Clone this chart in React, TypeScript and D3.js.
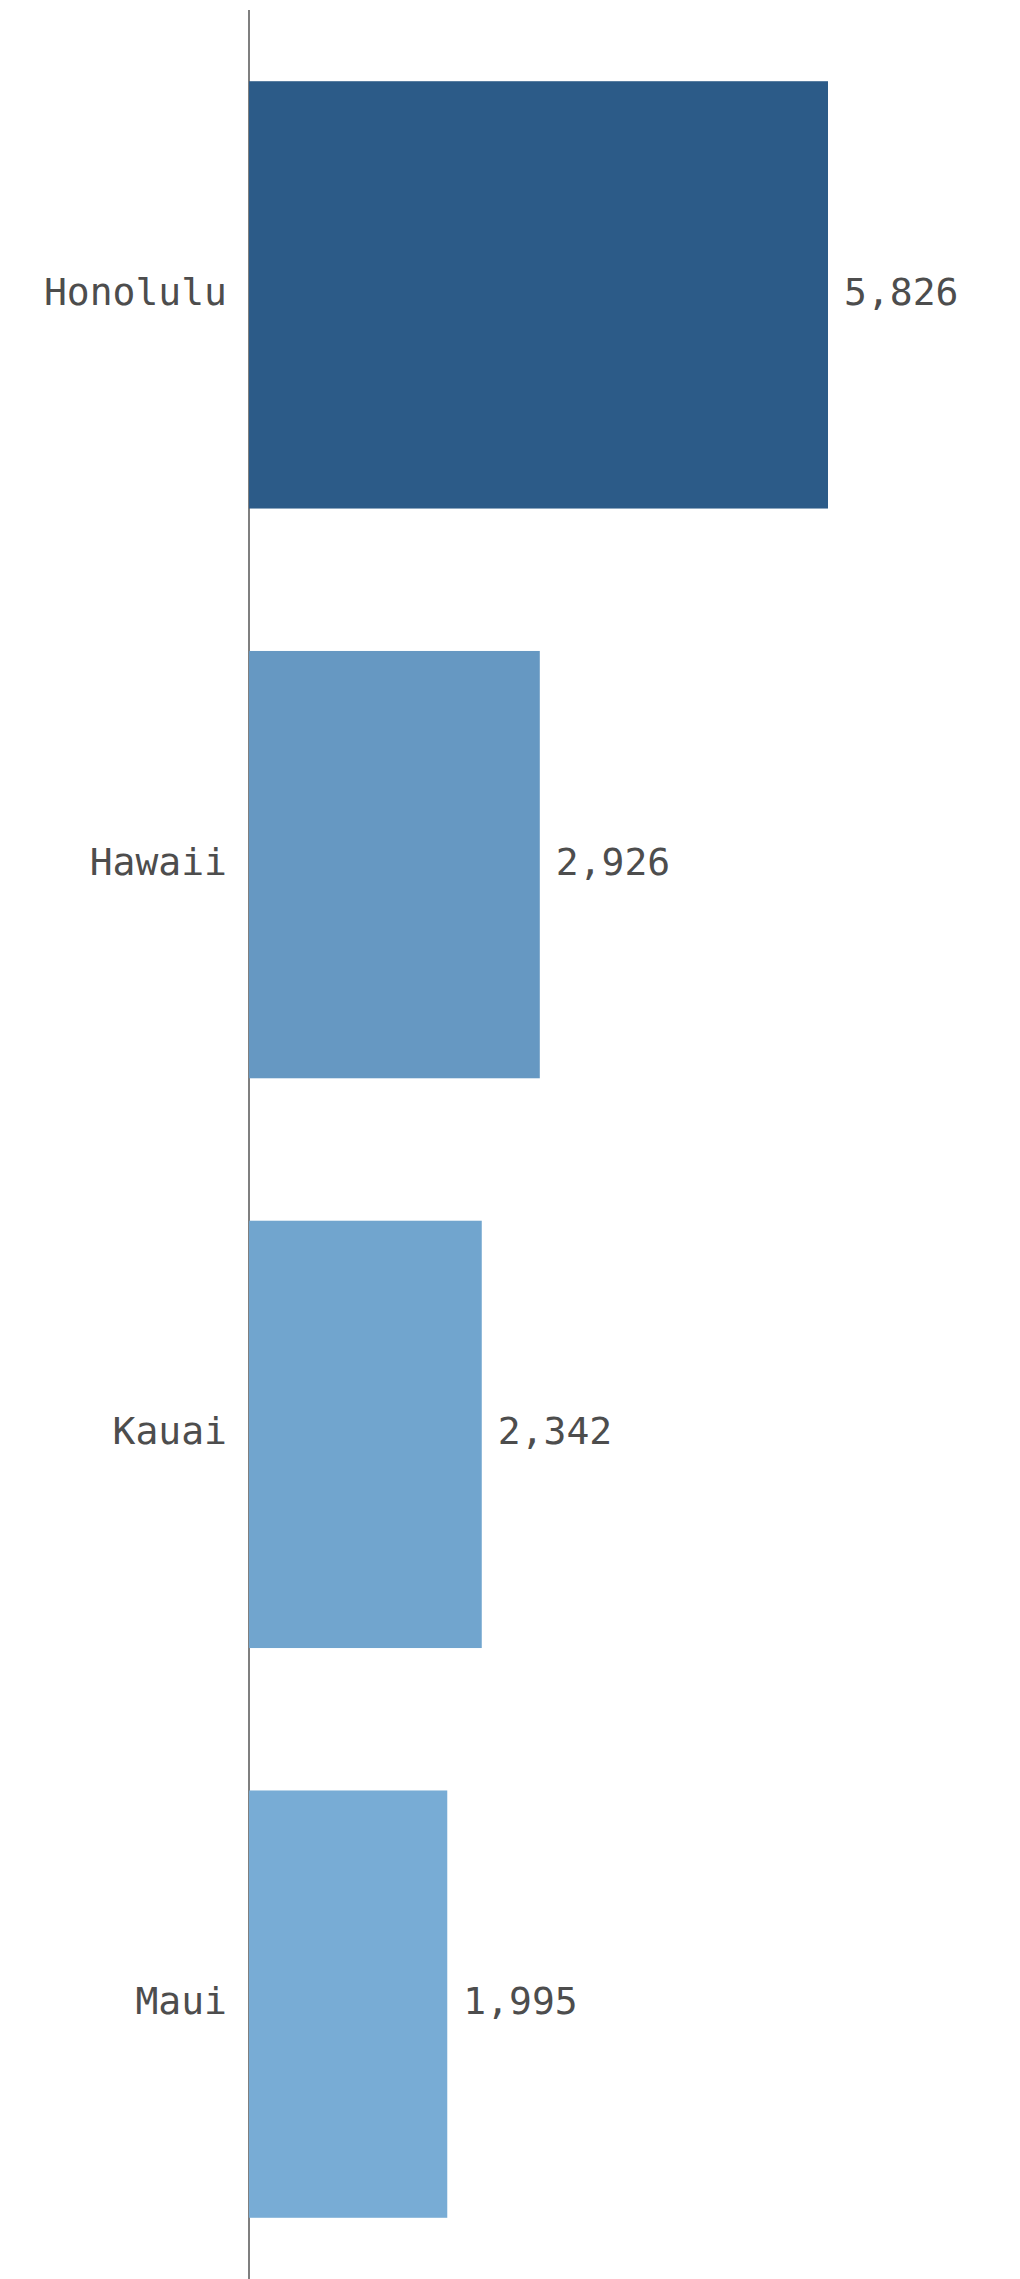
import React from "react";
import * as d3 from "d3";

const categories = ["Honolulu", "Hawaii", "Kauai", "Maui"];
const values = [5826, 2926, 2342, 1995];

const WIDTH = 1020;
const HEIGHT = 2279;
const AXIS_X = 249;

export default function App() {
  const maxV = d3.max(values) as number;
  const minV = d3.min(values) as number;
  const x = d3.scaleLinear().domain([0, maxV]).range([AXIS_X, 828]);
  const y = d3
    .scaleBand<string>()
    .domain(categories)
    .range([10, 2289])
    .paddingInner(0.25)
    .paddingOuter(0.125);
  const color = d3
    .scaleLinear<string>()
    .domain([minV, maxV])
    .range(["#78acd5", "#2c5b88"]);
  const fmt = d3.format(",");
  const font = "'DejaVu Sans Mono', monospace";

  return (
    <svg
      width={WIDTH}
      height={HEIGHT}
      style={{ position: "absolute", left: 0, top: 0, background: "#fff" }}
    >
      <line
        x1={AXIS_X}
        x2={AXIS_X}
        y1={10}
        y2={HEIGHT}
        stroke="#555"
        strokeWidth={1.5}
      />
      {categories.map((c, i) => {
        const y0 = y(c) as number;
        const bw = y.bandwidth();
        const cy = y0 + bw / 2;
        return (
          <g key={c}>
            <rect
              x={x(0)}
              y={y0}
              width={x(values[i]) - x(0)}
              height={bw}
              fill={color(values[i])}
            />
            <text
              x={AXIS_X - 22}
              y={cy + 10}
              textAnchor="end"
              fontFamily={font}
              fontSize={38}
              fill="#4d4d4d"
            >
              {c}
            </text>
            <text
              x={x(values[i]) + 16}
              y={cy + 10}
              textAnchor="start"
              fontFamily={font}
              fontSize={38}
              fill="#4d4d4d"
            >
              {fmt(values[i])}
            </text>
          </g>
        );
      })}
    </svg>
  );
}
